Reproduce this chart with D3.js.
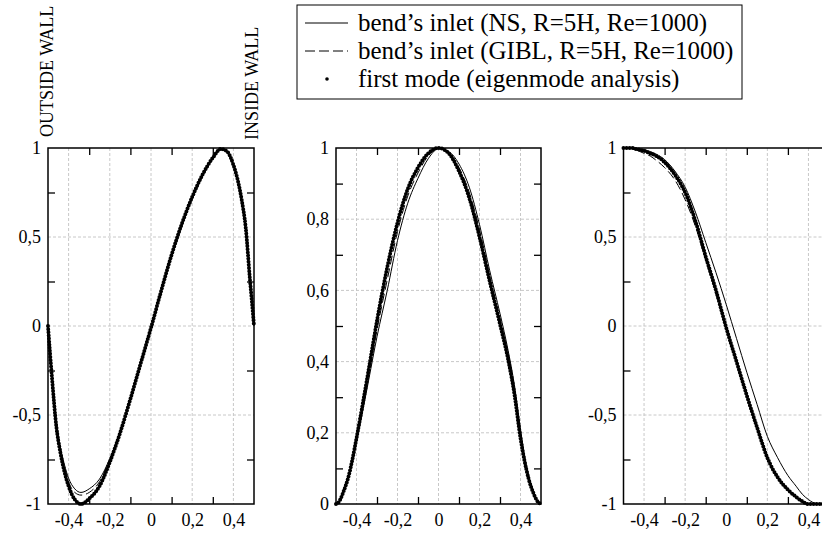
<!DOCTYPE html>
<html>
  <head>
    <meta charset="utf-8">
    <script src="https://d3js.org/d3.v7.min.js"></script>
    <title>Bend inlet modes</title>
    <style>
      body { margin: 0px; background: #fff; }
      svg { display: block; font-family: 'Liberation Serif', 'Times New Roman', serif; }
      .grid line { stroke: #c8c8c8; stroke-width: 1; stroke-dasharray: 3,2; }
      .ticks .domain, .labels .domain { display: none; }
      .ticks line { stroke: #000; stroke-width: 1.3; }
      .labels text { font-family: 'Liberation Serif', serif !important; font-size: 18px !important; fill: #000; }
      .legend text { font-size: 25px; fill: #000; }
    </style>
  </head>
  <body>
    <svg width="822" height="533"></svg>
    <script>
      // sample positions across the duct (shared by all three panels)
      const xs = [-0.5, -0.49, -0.48, -0.46, -0.44, -0.42, -0.4, -0.37, -0.34, -0.3, -0.25, -0.2, -0.15, -0.1, -0.05,
        0, 0.05, 0.1, 0.15, 0.2, 0.25, 0.3, 0.34, 0.37, 0.4, 0.42, 0.44, 0.46, 0.48, 0.49, 0.5];

      // panel 1
      const p1Ns   = [0, -0.15, -0.29, -0.53, -0.68, -0.78, -0.855, -0.915, -0.935, -0.915, -0.86, -0.745, -0.59, -0.41, -0.21,
        -0.01, 0.195, 0.39, 0.565, 0.715, 0.84, 0.94, 0.99, 0.975, 0.9, 0.82, 0.7, 0.54, 0.26, 0.13, 0];
      const p1Gibl = [0, -0.15, -0.295, -0.545, -0.69, -0.795, -0.875, -0.935, -0.95, -0.935, -0.875, -0.755, -0.595, -0.41, -0.21,
        -0.01, 0.197, 0.395, 0.57, 0.72, 0.845, 0.943, 0.993, 0.978, 0.9, 0.82, 0.705, 0.545, 0.26, 0.13, 0];
      const p1Mode = [0, -0.155, -0.3, -0.56, -0.71, -0.82, -0.9, -0.975, -1.0, -0.97, -0.9, -0.765, -0.6, -0.41, -0.21,
        -0.01, 0.2, 0.4, 0.575, 0.725, 0.85, 0.945, 0.995, 0.98, 0.905, 0.825, 0.71, 0.55, 0.265, 0.135, 0];

      // panel 2
      const p2Ns   = [0, 0.003, 0.012, 0.04, 0.075, 0.12, 0.175, 0.26, 0.35, 0.47, 0.6, 0.74, 0.845, 0.915, 0.97,
        0.998, 0.99, 0.955, 0.89, 0.785, 0.655, 0.535, 0.43, 0.335, 0.21, 0.135, 0.08, 0.04, 0.012, 0.003, 0];
      const p2Gibl = [0, 0.003, 0.012, 0.04, 0.075, 0.122, 0.18, 0.27, 0.365, 0.49, 0.63, 0.765, 0.865, 0.93, 0.978,
        0.999, 0.988, 0.945, 0.875, 0.77, 0.64, 0.52, 0.418, 0.322, 0.197, 0.127, 0.075, 0.038, 0.011, 0.003, 0];
      const p2Mode = [0, 0.003, 0.012, 0.04, 0.075, 0.125, 0.185, 0.28, 0.38, 0.515, 0.665, 0.79, 0.885, 0.945, 0.985,
        1, 0.985, 0.935, 0.86, 0.75, 0.625, 0.505, 0.405, 0.31, 0.185, 0.12, 0.07, 0.035, 0.01, 0.003, 0];

      // panel 3
      const p3Ns   = [1, 1, 1, 1, 0.998, 0.994, 0.99, 0.98, 0.965, 0.935, 0.87, 0.78, 0.64, 0.47, 0.3,
        0.12, -0.07, -0.26, -0.44, -0.62, -0.74, -0.84, -0.9, -0.945, -0.975, -0.99, -0.998, -1, -1, -1, -1];
      const p3Gibl = [1, 1, 1, 0.998, 0.99, 0.98, 0.97, 0.955, 0.93, 0.89, 0.82, 0.71, 0.56, 0.37, 0.18,
        -0.02, -0.21, -0.4, -0.58, -0.74, -0.85, -0.925, -0.965, -0.985, -0.998, -1, -1, -1, -1, -1, -1];
      const p3Mode = [1, 1, 1, 1, 0.995, 0.99, 0.985, 0.97, 0.955, 0.92, 0.85, 0.75, 0.59, 0.39, 0.2,
        -0.01, -0.2, -0.39, -0.57, -0.74, -0.85, -0.92, -0.96, -0.985, -1, -1, -1, -1, -1, -1, -1];

      const xLabels = [-0.4, -0.2, 0, 0.2, 0.4];
      const xMinor = [-0.3, -0.1, 0.1, 0.3];
      const yLabelsSym = [-1, -0.5, 0, 0.5, 1];
      const yMinorSym = [-0.75, -0.25, 0.25, 0.75];
      const yLabelsPos = [0, 0.2, 0.4, 0.6, 0.8, 1];
      const yMinorPos = [0.1, 0.3, 0.5, 0.7, 0.9];
      const legendLabels = [
        'bend\u2019s inlet (NS, R=5H, Re=1000)',
        'bend\u2019s inlet (GIBL, R=5H, Re=1000)',
        'first mode (eigenmode analysis)'
      ];

      const plotTop = 148, plotBottom = 504;
      const fmt = d => String(d).replace('.', ',');

      const panels = [
        { left: 48, right: 254, y: [-1, 1], yLab: yLabelsSym, yMin: yMinorSym, ns: p1Ns, gibl: p1Gibl, mode: p1Mode },
        { left: 336, right: 541, y: [0, 1], yLab: yLabelsPos, yMin: yMinorPos, ns: p2Ns, gibl: p2Gibl, mode: p2Mode },
        { left: 623.5, right: 829, y: [-1, 1], yLab: yLabelsSym, yMin: yMinorSym, ns: p3Ns, gibl: p3Gibl, mode: p3Mode }
      ];

      const svg = d3.select('svg');

      panels.forEach(p => {
        const x = d3.scaleLinear().domain([-0.5, 0.5]).range([p.left, p.right]);
        const y = d3.scaleLinear().domain(p.y).range([plotBottom, plotTop]);
        const g = svg.append('g');

        // dashed grid
        const grid = g.append('g').attr('class', 'grid');
        grid.selectAll('.gx').data(xLabels).enter().append('line')
            .attr('x1', d => x(d)).attr('x2', d => x(d))
            .attr('y1', plotTop).attr('y2', plotBottom);
        grid.selectAll('.gy').data(p.yLab.filter(v => v !== p.y[0] && v !== p.y[1])).enter().append('line')
            .attr('x1', p.left).attr('x2', p.right)
            .attr('y1', d => y(d)).attr('y2', d => y(d));

        // inward minor ticks on all four sides
        const tk = 7;
        g.append('g').attr('class', 'ticks').attr('transform', `translate(0,${plotBottom})`)
          .call(d3.axisBottom(x).tickValues(xMinor).tickSize(-tk).tickFormat(''));
        g.append('g').attr('class', 'ticks').attr('transform', `translate(0,${plotTop})`)
          .call(d3.axisTop(x).tickValues(xMinor).tickSize(-tk).tickFormat(''));
        g.append('g').attr('class', 'ticks').attr('transform', `translate(${p.left},0)`)
          .call(d3.axisLeft(y).tickValues(p.yMin).tickSize(-tk).tickFormat(''));
        g.append('g').attr('class', 'ticks').attr('transform', `translate(${p.right},0)`)
          .call(d3.axisRight(y).tickValues(p.yMin).tickSize(-tk).tickFormat(''));

        // tick labels
        g.append('g').attr('class', 'labels').attr('transform', `translate(0,${plotBottom})`)
          .call(d3.axisBottom(x).tickValues(xLabels).tickSize(0).tickPadding(9).tickFormat(fmt))
          .call(s => s.selectAll('line').remove());
        g.append('g').attr('class', 'labels').attr('transform', `translate(${p.left},0)`)
          .call(d3.axisLeft(y).tickValues(p.yLab).tickSize(0).tickPadding(7).tickFormat(fmt))
          .call(s => s.selectAll('line').remove());

        const pts = arr => arr.map((v, i) => [xs[i], v]);
        const line = d3.line().x(d => x(d[0])).y(d => y(d[1])).curve(d3.curveMonotoneX);

        g.append('path').attr('d', line(pts(p.mode)))
            .attr('fill', 'none').attr('stroke', '#000')
            .attr('stroke-width', 4).attr('stroke-linecap', 'round')
            .attr('stroke-dasharray', '0,3.1');
        g.append('path').attr('d', line(pts(p.gibl)))
            .attr('fill', 'none').attr('stroke', '#000').attr('stroke-width', 1)
            .attr('stroke-dasharray', '9,4');
        g.append('path').attr('d', line(pts(p.ns)))
            .attr('fill', 'none').attr('stroke', '#000').attr('stroke-width', 1);

        // frame
        g.append('rect')
            .attr('x', p.left).attr('y', plotTop)
            .attr('width', p.right - p.left).attr('height', plotBottom - plotTop)
            .attr('fill', 'none').attr('stroke', '#000').attr('stroke-width', 1.5);
      });

      // wall labels
      svg.append('text').attr('transform', 'translate(53,137) rotate(-90)')
          .attr('font-size', 18).text('OUTSIDE WALL');
      svg.append('text').attr('transform', 'translate(258,140) rotate(-90)')
          .attr('font-size', 18).text('INSIDE WALL');

      // legend
      const lg = svg.append('g').attr('class', 'legend');
      lg.append('rect').attr('x', 297).attr('y', 5).attr('width', 445).attr('height', 94)
          .attr('fill', '#fff').attr('stroke', '#000').attr('stroke-width', 1);
      const rowY = [23, 51, 79];
      lg.append('line').attr('x1', 305).attr('x2', 348).attr('y1', rowY[0]).attr('y2', rowY[0])
          .attr('stroke', '#000');
      lg.append('line').attr('x1', 305).attr('x2', 348).attr('y1', rowY[1]).attr('y2', rowY[1])
          .attr('stroke', '#000').attr('stroke-dasharray', '10,4');
      lg.append('circle').attr('cx', 327).attr('cy', rowY[2]).attr('r', 1.8).attr('fill', '#000');
      lg.selectAll('text.lab').data(legendLabels).enter().append('text')
          .attr('class', 'lab')
          .attr('x', 358).attr('y', (d, i) => rowY[i]).attr('dy', '0.33em')
          .text(d => d);
    </script>
  </body>
</html>
